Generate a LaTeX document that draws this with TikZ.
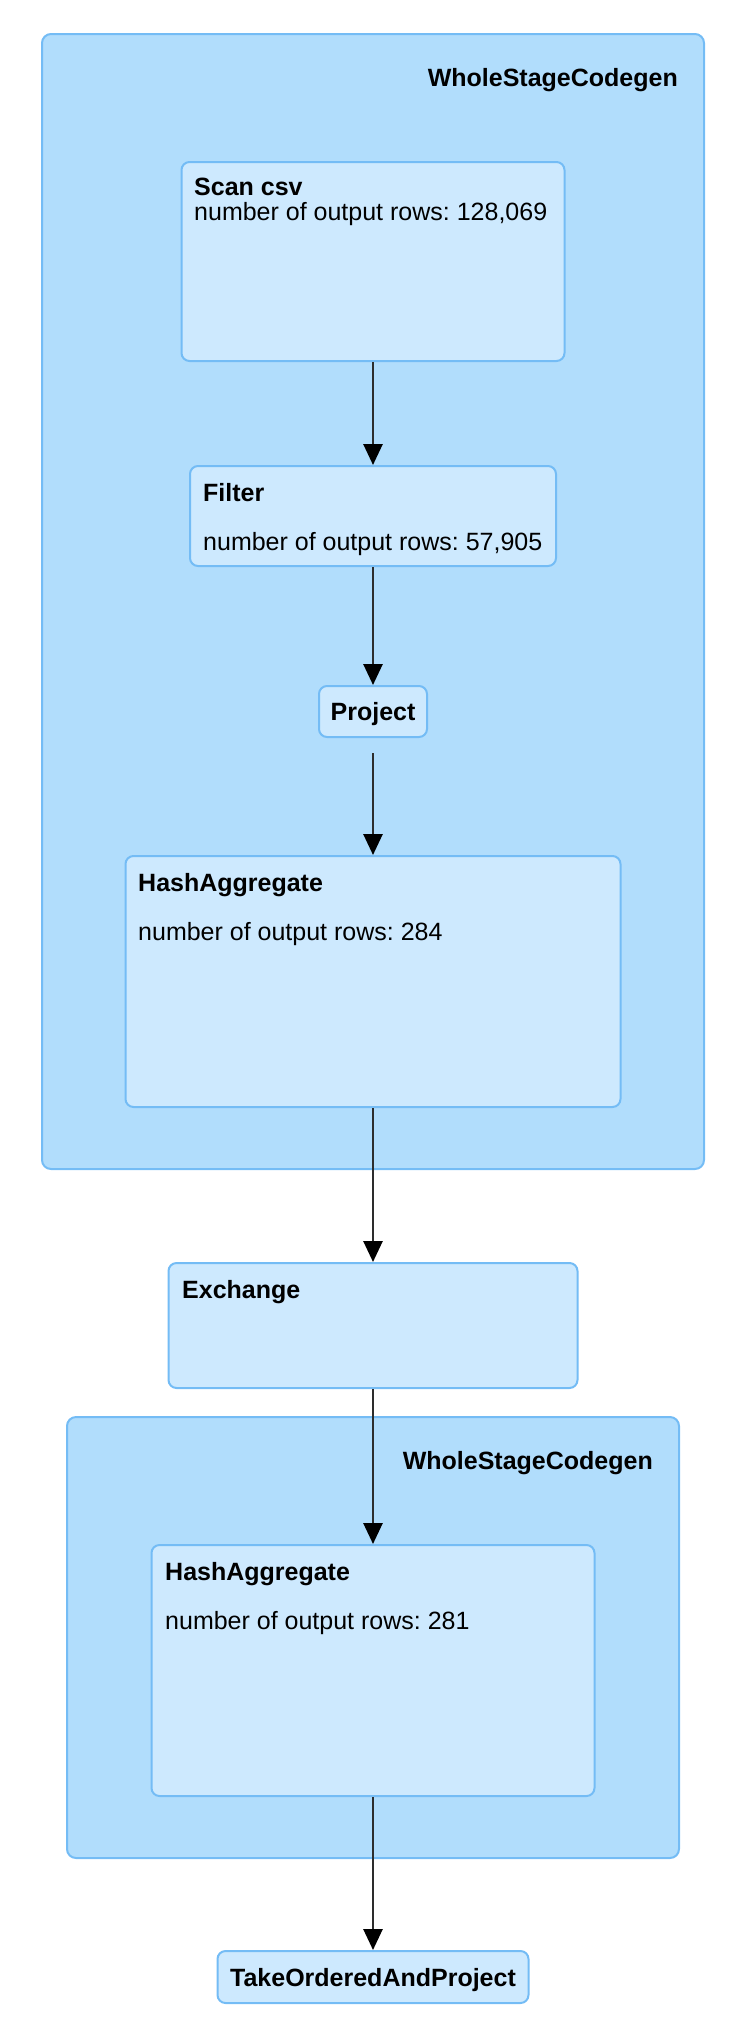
\documentclass[tikz,border=0pt]{standalone}
\usepackage{fontspec}
\setmainfont{Liberation Sans}
\usetikzlibrary{arrows.meta}
\definecolor{clusterfill}{RGB}{177,221,252}
\definecolor{nodefill}{RGB}{205,233,254}
\definecolor{boxline}{RGB}{116,188,245}
\definecolor{edgecol}{RGB}{45,45,45}
\tikzset{
  cluster/.style={draw=boxline, fill=clusterfill, line width=2pt, rounded corners=9pt, inner sep=0pt, anchor=north},
  opbox/.style={draw=boxline, fill=nodefill, line width=2pt, rounded corners=8pt, inner sep=0pt, anchor=north},
  title/.style={font=\fontsize{25pt}{30pt}\selectfont\bfseries, inner sep=0pt},
  metric/.style={font=\fontsize{25pt}{30pt}\selectfont\frenchspacing, inner sep=0pt, anchor=base west},
  flow/.style={draw=edgecol, line width=2.7pt, -{Triangle[width=19pt,length=21pt,color=black]}}
}
\begin{document}
\begin{tikzpicture}[x=1pt,y=-1pt]
\useasboundingbox (0,0) rectangle (734,2035);
% clusters
\node[cluster, minimum width=662pt, minimum height=1135pt] (wsc1) at (373,33) {};
\node[title, anchor=base east] (wsc1lab) at (678,86) {WholeStageCodegen};
\node[cluster, minimum width=612pt, minimum height=441pt] (wsc2) at (373,1416) {};
\node[title, anchor=base east] (wsc2lab) at (653,1469) {WholeStageCodegen};
% operator boxes
\node[opbox, minimum width=383pt, minimum height=199pt] (scan) at (373,161) {};
\node[title, anchor=base west] (scant) at (194,195) {Scan csv};
\node[metric] (scanm) at (194,220) {number of output rows: 128,069};
\node[opbox, minimum width=366pt, minimum height=100pt] (filter) at (373,465) {};
\node[title, anchor=base west] (filtert) at (203,501) {Filter};
\node[metric] (filterm) at (203,550) {number of output rows: 57,905};
\node[opbox, minimum width=108pt, minimum height=51pt] (project) at (373,685) {};
\node[title, anchor=base] (projectt) at (373,720) {Project};
\node[opbox, minimum width=495pt, minimum height=251pt] (ha1) at (373,855) {};
\node[title, anchor=base west] (ha1t) at (138,891) {HashAggregate};
\node[metric] (ha1m) at (138,940) {number of output rows: 284};
\node[opbox, minimum width=409pt, minimum height=125pt] (exch) at (373,1262) {};
\node[title, anchor=base west] (excht) at (182,1298) {Exchange};
\node[opbox, minimum width=443pt, minimum height=251pt] (ha2) at (373,1544) {};
\node[title, anchor=base west] (ha2t) at (165,1580) {HashAggregate};
\node[metric] (ha2m) at (165,1629) {number of output rows: 281};
\node[opbox, minimum width=311pt, minimum height=52pt] (take) at (373,1950) {};
\node[title, anchor=base] (taket) at (373,1986) {TakeOrderedAndProject};
% edges
\coordinate (projout) at ([yshift=-15pt]project.south);
\draw[flow] (scan.south) -- (filter.north);
\draw[flow] (filter.south) -- (project.north);
\draw[flow] (projout) -- (ha1.north);
\draw[flow] (ha1.south) -- (exch.north);
\draw[flow] (exch.south) -- (ha2.north);
\draw[flow] (ha2.south) -- (take.north);
\end{tikzpicture}
\end{document}
